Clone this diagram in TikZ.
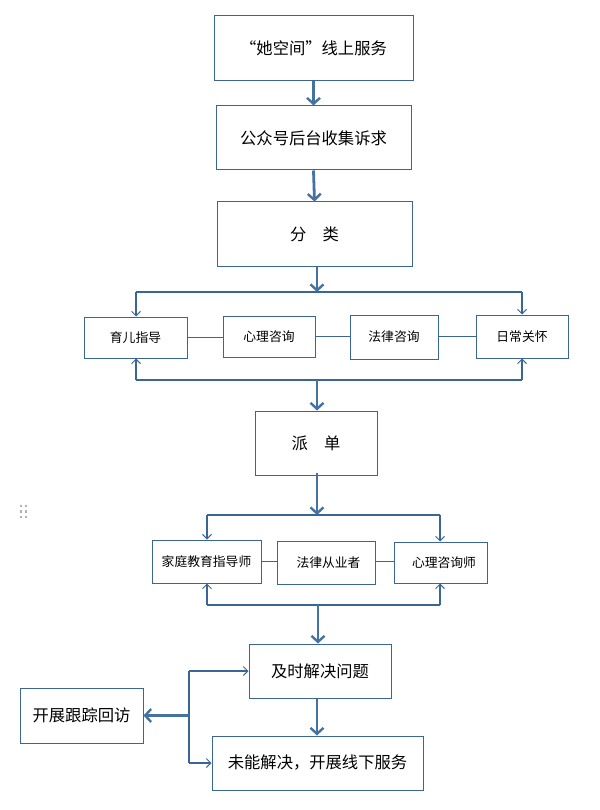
\documentclass[tikz,border=0pt]{standalone}
\usepackage{fontspec}
\setmainfont{Noto Sans CJK SC}
\usetikzlibrary{arrows.meta}
\definecolor{bordc}{RGB}{58,102,150}
\definecolor{arrc}{RGB}{68,114,162}
\tikzset{
  box/.style={draw=bordc, line width=1pt, fill=white, inner sep=0pt, font=\fontsize{16.3}{19}\selectfont},
  sbox/.style={box, font=\fontsize{12.8}{15}\selectfont},
  bigarrow/.style={draw=arrc, line width=2.8pt, -{Straight Barb[length=6pt,width=13pt,line width=2.4pt]}},
  thinarrow/.style={draw=bordc, line width=1.3pt, -{Straight Barb[length=4.5pt,width=9pt,line width=1pt]}},
  thinline/.style={draw=bordc, line width=1.3pt},
  link/.style={draw=bordc, line width=1pt},
}
\begin{document}
\begin{tikzpicture}[x=1pt,y=-1pt]
\useasboundingbox (0,0) rectangle (599,810);
% main column
\node[box, minimum width=199pt, minimum height=65pt] (n1) at (313.5,48.5) {“她空间”线上服务};
\node[box, minimum width=195pt, minimum height=64pt] (n2) at (313.5,138) {公众号后台收集诉求};
\node[box, minimum width=195pt, minimum height=64pt] (n3) at (314.5,234) {分\hspace{1em}类};
% category row
\node[sbox, minimum width=103pt, minimum height=41pt] (c1) at (135.5,337.5) {育儿指导};
\node[sbox, minimum width=92pt, minimum height=41pt] (c2) at (269,336.5) {心理咨询};
\node[sbox, minimum width=88pt, minimum height=44pt] (c3) at (394,337) {法律咨询};
\node[sbox, minimum width=92pt, minimum height=43pt] (c4) at (522,336.5) {日常关怀};
% dispatch
\node[box, minimum width=122pt, minimum height=64pt] (d) at (316,443) {派\hspace{1em}单};
% staff row
\node[sbox, minimum width=109pt, minimum height=43pt] (s1) at (206.5,561.5) {家庭教育指导师};
\node[sbox, minimum width=98pt, minimum height=43pt] (s2) at (326,562.5) {\hspace{5pt}法律从业者};
\node[sbox, minimum width=93pt, minimum height=41pt] (s3) at (440.5,562.5) {\hspace{7pt}心理咨询师};
% bottom
\node[box, minimum width=142pt, minimum height=54pt] (r1) at (320,671) {及时解决问题};
\node[box, minimum width=123pt, minimum height=55pt] (r2) at (81.5,715.5) {开展跟踪回访};
\node[box, minimum width=211pt, minimum height=54pt] (r3) at (317.5,763) {未能解决，开展线下服务};
% coordinates
\coordinate (t1) at (317,292);
\coordinate (t1l) at (136,292);
\coordinate (t1r) at (522,292);
\coordinate (u1) at (317,380);
\coordinate (u1l) at (136,380);
\coordinate (u1r) at (522,380);
\coordinate (t2) at (317,515);
\coordinate (t2l) at (207,515);
\coordinate (t2r) at (440,515);
\coordinate (u2) at (318,605);
\coordinate (u2l) at (207,605);
\coordinate (u2r) at (440,605);
\coordinate (v1) at (189,671);
\coordinate (v2) at (189,715.5);
\coordinate (v3) at (189,763);
\coordinate (col) at (317,0);
% main arrows
\draw[bigarrow] (n1.south) -- (n2.north);
\draw[bigarrow] (n2.south) -- (n3.north);
\draw[bigarrow] (n3.south -| t1) -- (t1);
% top bracket row 1
\draw[thinline] (t1l) -- (t1r);
\draw[thinarrow] (t1l) -- (t1l |- c1.north);
\draw[thinarrow] (t1r) -- (t1r |- c4.north);
% links
\draw[link] (c1.east) -- (c1.east -| c2.west);
\draw[link] (c2.east) -- (c2.east -| c3.west);
\draw[link] (c2.east -| c3.east) -- (c2.east -| c4.west);
% bottom bracket row 1
\draw[thinline] (u1l) -- (u1r);
\draw[thinarrow] (u1l) -- (u1l |- c1.south);
\draw[thinarrow] (u1r) -- (u1r |- c4.south);
\draw[bigarrow] (u1) -- (u1 |- d.north);
% dispatch to staff
\draw[bigarrow] ([yshift=3pt]d.south -| t2) -- (t2);
\draw[thinline] (t2l) -- (t2r);
\draw[thinarrow] (t2l) -- (t2l |- s1.north);
\draw[thinarrow] (t2r) -- (t2r |- s3.north);
\draw[link] (s1.east) -- (s1.east -| s2.west);
\draw[link] (s1.east -| s2.east) -- (s1.east -| s3.west);
\draw[thinline] (u2l) -- (u2r);
\draw[thinarrow] (u2l) -- (u2l |- s1.south);
\draw[thinarrow] (u2r) -- (u2r |- s3.south);
\draw[bigarrow] (u2) -- (u2 |- r1.north);
% bottom
\draw[bigarrow] (r1.south -| col) -- (col |- r3.north);
\draw[thinline] (v1) -- (v3);
\draw[thinarrow] (v1) -- (r1.west);
\draw[thinarrow] (v3) -- (r3.west);
\draw[bigarrow] (v2) -- (r2.east);
% drag handle dots
\foreach \xx in {21,26} \foreach \yy in {506,511.5,517}
  \fill[gray!60] (\xx-1.2,\yy-1.2) rectangle (\xx+1.2,\yy+1.2);
\end{tikzpicture}
\end{document}
